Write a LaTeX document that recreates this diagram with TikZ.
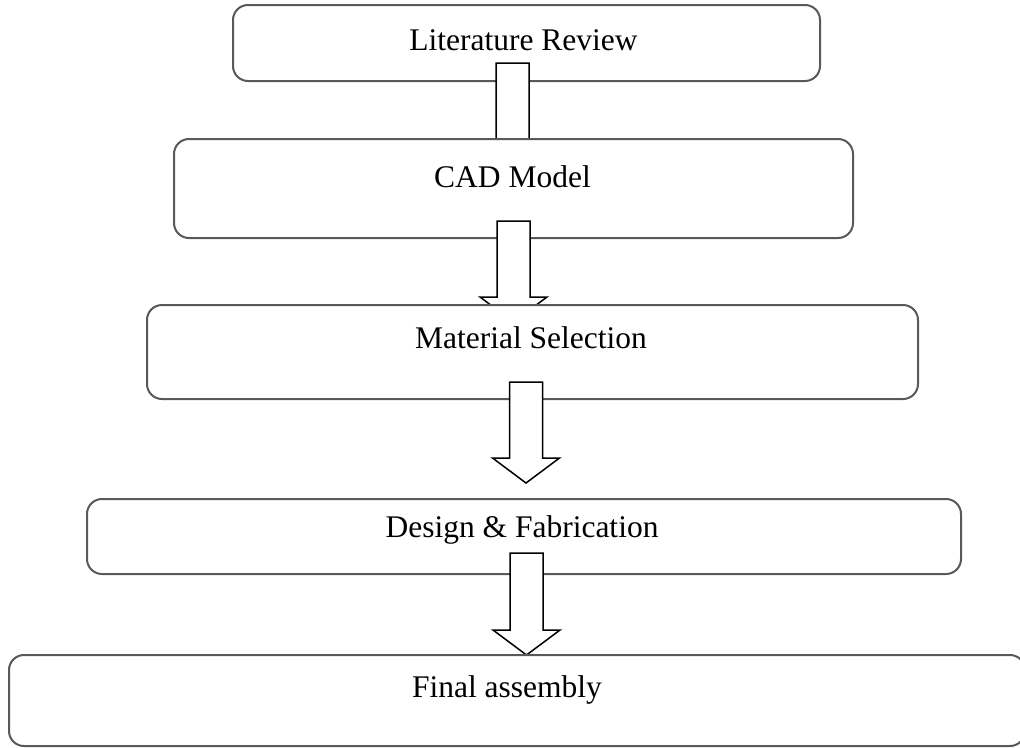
\documentclass[tikz,border=0pt]{standalone}
\usepackage{fontspec}
\setmainfont{Liberation Serif}
\usetikzlibrary{calc}

\tikzset{
  stage/.style={draw=black!65, line width=2pt, rounded corners=15pt, fill=white, inner sep=0pt},
  stagetext/.style={inner sep=0pt, font=\fontsize{31.5}{38}\selectfont},
  flow/.style={draw=black, line width=1.5pt, fill=white}
}
% hollow block arrow from tail (#1) to tip (#2)
\newcommand{\blockarrow}[2]{%
  \filldraw[flow] ($(#1)+(-16.5,0)$) -- ($(#1)+(16.5,0)$) -- ($(#2)+(16.5,-25)$)
    -- ($(#2)+(33.5,-25)$) -- (#2) -- ($(#2)+(-33.5,-25)$) -- ($(#2)+(-16.5,-25)$) -- cycle;}

\begin{document}
\begin{tikzpicture}[x=1pt,y=-1pt]
      \useasboundingbox (0,0) rectangle (1020,747);
      \node[stage, minimum width=587pt, minimum height=76pt] (lit) at (526.5,43) {};
      \node[stagetext] (littext) at (523.5,40.5) {Literature Review};
      \coordinate (a1s) at (512.5,63);
      \coordinate (a1t) at (512.5,170);
      \blockarrow{a1s}{a1t}
      \node[stage, minimum width=679pt, minimum height=99pt] (cad) at (513.5,188.5) {};
      \node[stagetext] (cadtext) at (512.5,177) {CAD Model};
      \coordinate (a2s) at (513.5,221);
      \coordinate (a2t) at (513.5,322);
      \blockarrow{a2s}{a2t}
      \node[stage, minimum width=771pt, minimum height=94pt] (mat) at (532.5,352) {};
      \node[stagetext] (mattext) at (531,338) {Material Selection};
      \coordinate (a3s) at (526,382);
      \coordinate (a3t) at (526,483);
      \blockarrow{a3s}{a3t}
      \node[stage, minimum width=874pt, minimum height=75pt] (des) at (524,536.5) {};
      \node[stagetext] (destext) at (522,530) {Design \& Fabrication};
      \coordinate (a4s) at (526.5,553);
      \coordinate (a4t) at (526.5,655);
      \blockarrow{a4s}{a4t}
      \node[stage, minimum width=1016pt, minimum height=91pt] (fin) at (517,700.5) {};
      \node[stagetext] (fintext) at (507,690) {Final assembly};
    \end{tikzpicture}
\end{document}
